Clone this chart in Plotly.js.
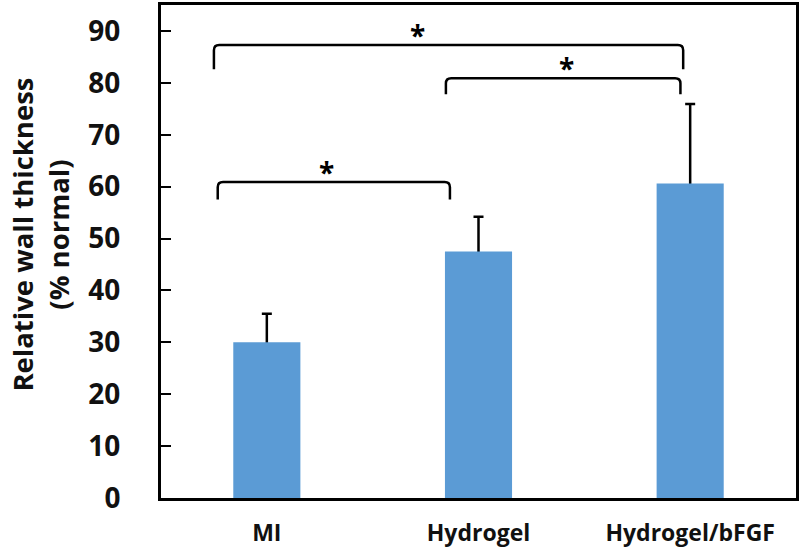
<!DOCTYPE html>
<html>
<head>
<meta charset="utf-8">
<script src="https://cdn.plot.ly/plotly-3.0.1.min.js"></script>
<style>html,body{margin:0;padding:0;background:#fff;}#chart{width:800px;height:548px;}</style>
</head>
<body>
<div id="chart"></div>
<script>
// Data
const categories = ['MI', 'Hydrogel', 'Hydrogel/bFGF'];
const meanValues = [30.0, 47.5, 60.6];
const errorPlus = [5.5, 6.7, 15.3];
const yTickValues = [0, 10, 20, 30, 40, 50, 60, 70, 80, 90];
const yTitle = 'Relative wall thickness<br>(% normal)';

// Significance brackets (group positions as category index, heights in % normal)
const bracketStart = [-0.25, 0.846, -0.232];
const bracketEnd = [1.967, 1.954, 0.865];
const bracketTop = [87.3, 80.9, 60.9];
const bracketFoot = [82.6, 77.8, 57.5];
const starX = [0.714, 1.414, 0.284];
const starLabel = ['*', '*', '*'];

const xIdx = categories.map((c, i) => i);
const hiddenMinus = errorPlus.map(() => 4); // lower part of the error bar sits hidden behind the bar
const rx = 0.025, ry = 1.0;

const shapes = bracketStart.map((x0, i) => {
  const x1 = bracketEnd[i], yt = bracketTop[i], yf = bracketFoot[i];
  return {
    type: 'path', xref: 'x', yref: 'y',
    path: `M ${x0},${yf} L ${x0},${yt - ry} Q ${x0},${yt} ${x0 + rx},${yt} L ${x1 - rx},${yt} Q ${x1},${yt} ${x1},${yt - ry} L ${x1},${yf}`,
    line: {color: '#000', width: 2.5}
  };
});

const annotations = starX.map((x, i) => ({
  x: x, y: bracketTop[i], xref: 'x', yref: 'y',
  text: starLabel[i], showarrow: false, yanchor: 'bottom', yshift: -11,
  font: {family: 'Open Sans, sans-serif', size: 28, color: '#000', weight: 'bold'}
}));

// y-axis title, placed as in the reference (slightly above the axis centre)
annotations.push({
  xref: 'paper', yref: 'paper', x: -0.19, y: 0.535,
  xanchor: 'center', yanchor: 'middle', textangle: -90,
  text: yTitle, showarrow: false,
  font: {family: 'Open Sans, sans-serif', size: 27.5, color: '#111', weight: 'bold'}
});

// error bars (drawn first, the visible bars then cover their lower cap)
const errTrace = {
  type: 'bar',
  x: xIdx,
  y: meanValues,
  marker: {color: 'rgba(0,0,0,0)'},
  width: 0.317,
  error_y: {type: 'data', symmetric: false, array: errorPlus, arrayminus: hiddenMinus,
            color: '#000', thickness: 2.5, width: 5},
  hoverinfo: 'none'
};

const barTrace = {
  type: 'bar',
  x: xIdx,
  y: meanValues,
  marker: {color: '#5B9BD5'},
  width: 0.317,
  hoverinfo: 'none'
};

const layout = {
  width: 800, height: 548,
  margin: {l: 161, r: 4, t: 5, b: 50},
  paper_bgcolor: '#fff', plot_bgcolor: '#fff',
  showlegend: false,
  barmode: 'overlay',
  font: {family: 'Open Sans, sans-serif', color: '#000'},
  xaxis: {
    range: [-0.5, 2.5], tickvals: xIdx, ticktext: categories,
    showgrid: false, zeroline: false, ticks: '',
    showline: true, linecolor: '#000', linewidth: 3, mirror: true,
    tickfont: {size: 23, weight: 'bold', color: '#111'},
    ticklabelstandoff: 12
  },
  yaxis: {
    range: [0, 95], tickvals: yTickValues,
    showgrid: false, zeroline: false,
    ticks: 'inside', ticklen: 10, tickwidth: 2, tickcolor: '#000',
    showline: true, linecolor: '#000', linewidth: 3, mirror: true,
    tickfont: {size: 28, weight: 'bold', color: '#111'},
    ticklabelstandoff: 32
  },
  shapes: shapes,
  annotations: annotations
};

Plotly.newPlot('chart', [errTrace, barTrace], layout, {displayModeBar: false, staticPlot: true});
</script>
</body>
</html>
